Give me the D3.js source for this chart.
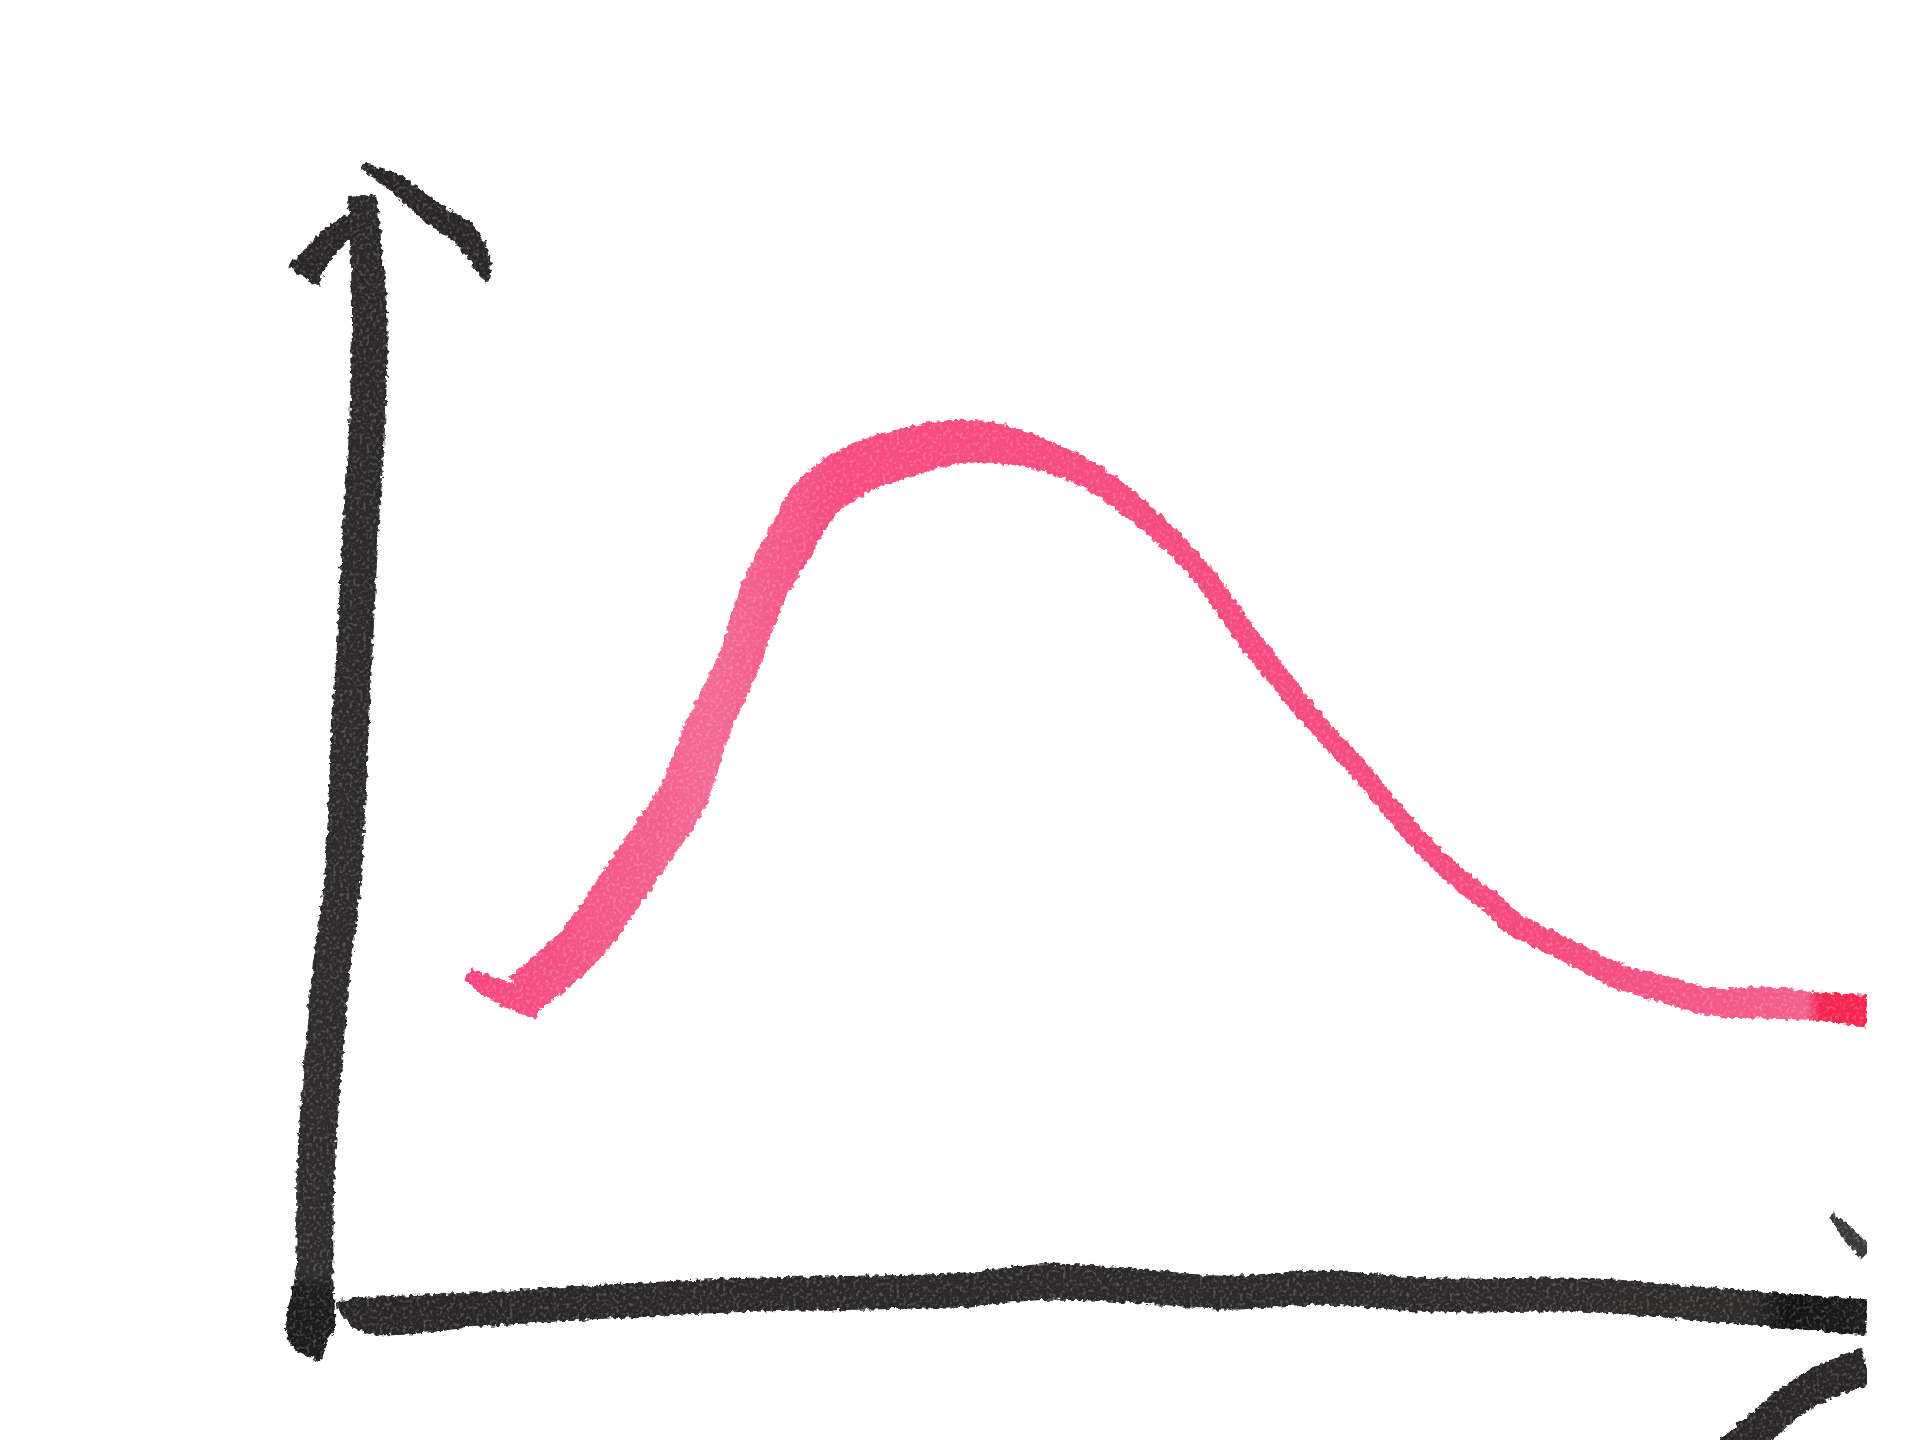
<!DOCTYPE html>
<html>
<head>
<meta charset="utf-8">
<title>Hand drawn curve</title>
<script src="https://cdn.jsdelivr.net/npm/d3@7"></script>
<style>
  html, body { margin: 0; background: #fff; }
  svg { display: block; }
</style>
</head>
<body>
<svg id="chart" width="1920" height="1440"></svg>
<script>
const curveX = [168, 214, 265, 298, 318, 344, 363, 385, 408, 443, 483, 519, 555, 595, 636, 710, 764, 791, 818, 845, 873, 897, 927, 960, 976, 1020, 1061, 1102, 1142, 1183, 1221, 1265]
const curveY = [263, 303, 375, 425, 479, 536, 590, 631, 669, 693, 706, 714, 713, 702, 683, 620, 548, 514, 481, 452, 419, 391, 361, 336, 321, 299, 278, 266, 256, 256, 253, 249]
const footX = [122, 149, 181]
const footY = [279, 265, 252]

const yAxisX = [36, 42, 40, 35, 30, 26, 20, 10, 4, -2, -3, -7, -5, 2]
const yAxisY = [915, 825, 725, 645, 545, 475, 355, 275, 205, 115, 35, -14, -22, -36]
const yWingLeftX = [28, 7, -5, -12]
const yWingLeftY = [893, 875, 860, 849]
const yWingRightX = [36, 59, 94, 122, 134, 138]
const yWingRightY = [940, 928, 901, 881, 860, 844]

const xAxisX = [16, 36, 140, 240, 340, 440, 520, 600, 690, 740, 820, 910, 1040, 1140, 1265]
const xAxisY = [10, 1, 6, 12, 17, 19, 21, 28, 23, 19, 23, 17, 17, 9, -1]
const xWingTopX = [1236, 1251, 1265]
const xWingTopY = [82, 66, 51]
const xWingLowX = [1141, 1169, 1210, 1237, 1265]
const xWingLowY = [-124, -99, -65, -51, -41]

// how wide the pen was at each of those points, in pixels
const curveWidth = [45, 48, 50, 50, 45, 43, 46, 49, 51, 51, 49, 44, 40, 31, 27, 22, 23, 22, 20, 20, 20, 20, 20, 22, 24, 23, 25, 27, 28, 32, 28, 33]
const footWidth = [13, 24, 26]
const yAxisWidth = [28, 35, 36, 36, 36, 37, 37, 38, 38, 38, 38, 48, 36, 5]
const yWingLeftWidth = [22, 26, 30, 38]
const yWingRightWidth = [6, 17, 23, 25, 18, 3]
const xAxisWidth = [5, 34, 34, 34, 34, 34, 34, 36, 34, 34, 34, 34, 34, 34, 36]
const xWingTopWidth = [6, 14, 16]
const xWingLowWidth = [34, 34, 34, 36, 38]

// where the ink changes tone along the strokes
const pinkStopsAt = [100, 250, 320, 420, 1000, 1216, 1226]
const pinkStopColors = ['#f6417a', '#f45a8a', '#f36a96', '#f64c80', '#f44a7c', '#f35f8b', '#f4264f']
const yAxisStopsAt = [915, 35, 20, -40]
const yAxisStopColors = ['#2a2828', '#2e2c2c', '#1d1c1c', '#1d1c1c']
const xAxisStopsAt = [0, 1170, 1200, 1265]
const xAxisStopColors = ['#282626', '#2e2b2b', '#141313', '#1e1c1c']

const black = '#282626'

const svg = d3.select('#chart')
const x = d3.scaleLinear().domain([0, 1265]).range([318, 1867])
const y = d3.scaleLinear().domain([0, 915]).range([1316, 196])

const defs = svg.append('defs')
defs.append('clipPath').attr('id', 'paper')
  .append('rect').attr('x', 0).attr('y', 0).attr('width', x(1265)).attr('height', 1440)

const addGradient = (id, horizontal, at, colors) => {
  const scale = horizontal ? x : y
  const first = scale(at[0])
  const last = scale(at[at.length - 1])
  const grad = defs.append('linearGradient').attr('id', id)
    .attr('gradientUnits', 'userSpaceOnUse')
    .attr('x1', horizontal ? first : 0).attr('x2', horizontal ? last : 0)
    .attr('y1', horizontal ? 0 : first).attr('y2', horizontal ? 0 : last)
  grad.selectAll('stop')
    .data(at)
    .join('stop')
    .attr('offset', (d) => (scale(d) - first) / (last - first))
    .attr('stop-color', (d, i) => colors[i])
}
addGradient('pinkInk', true, pinkStopsAt, pinkStopColors)
addGradient('yInk', false, yAxisStopsAt, yAxisStopColors)
addGradient('xInk', true, xAxisStopsAt, xAxisStopColors)

// felt pen on paper: rough edge, grainy fill, slightly soft scan
const ink = defs.append('filter').attr('id', 'ink')
  .attr('filterUnits', 'userSpaceOnUse')
  .attr('color-interpolation-filters', 'sRGB')
  .attr('x', 0).attr('y', 0).attr('width', 1920).attr('height', 1440)
ink.append('feTurbulence').attr('type', 'fractalNoise').attr('baseFrequency', 0.2)
  .attr('numOctaves', 2).attr('seed', 4).attr('result', 'edge')
ink.append('feDisplacementMap').attr('in', 'SourceGraphic').attr('in2', 'edge')
  .attr('scale', 7).attr('xChannelSelector', 'R').attr('yChannelSelector', 'G').attr('result', 'rough')
ink.append('feTurbulence').attr('type', 'fractalNoise').attr('baseFrequency', 0.3)
  .attr('numOctaves', 2).attr('seed', 9)
ink.append('feColorMatrix').attr('type', 'matrix')
  .attr('values', '0 0 0 0 1  0 0 0 0 1  0 0 0 0 1  4 0 0 0 -2')
  .attr('result', 'grain')
ink.append('feComposite').attr('in', 'grain').attr('in2', 'rough').attr('operator', 'in').attr('result', 'speck')
ink.append('feComponentTransfer').attr('in', 'speck').attr('result', 'soft')
  .append('feFuncA').attr('type', 'linear').attr('slope', 0.2)
const merge = ink.append('feMerge').attr('result', 'inked')
merge.append('feMergeNode').attr('in', 'rough')
merge.append('feMergeNode').attr('in', 'soft')
ink.append('feGaussianBlur').attr('in', 'inked').attr('stdDeviation', 0.75)

const smooth = d3.line().curve(d3.curveCatmullRom.alpha(0.5))

// outline of a pen stroke whose width changes along the way
const strokeOutline = (xs, ys, widths) => {
  const pts = xs.map((v, i) => [x(v), y(ys[i])])
  const left = []
  const right = []
  pts.forEach((p, i) => {
    const a = pts[Math.max(i - 1, 0)]
    const b = pts[Math.min(i + 1, pts.length - 1)]
    const len = Math.hypot(b[0] - a[0], b[1] - a[1])
    const nx = -(b[1] - a[1]) / len
    const ny = (b[0] - a[0]) / len
    left.push([p[0] + nx * widths[i] / 2, p[1] + ny * widths[i] / 2])
    right.push([p[0] - nx * widths[i] / 2, p[1] - ny * widths[i] / 2])
  })
  return smooth(left) + 'L' + smooth(right.reverse()).slice(1) + 'Z'
}

const strokes = [
  { xs: yAxisX, ys: yAxisY, ws: yAxisWidth, color: 'url(#yInk)' },
  { xs: yWingLeftX, ys: yWingLeftY, ws: yWingLeftWidth, color: black },
  { xs: yWingRightX, ys: yWingRightY, ws: yWingRightWidth, color: black },
  { xs: xAxisX, ys: xAxisY, ws: xAxisWidth, color: 'url(#xInk)' },
  { xs: xWingTopX, ys: xWingTopY, ws: xWingTopWidth, color: '#3a3838' },
  { xs: xWingLowX, ys: xWingLowY, ws: xWingLowWidth, color: black },
  { xs: footX, ys: footY, ws: footWidth, color: 'url(#pinkInk)' },
  { xs: curveX, ys: curveY, ws: curveWidth, color: 'url(#pinkInk)' },
]

svg.append('g')
  .attr('clip-path', 'url(#paper)')
  .append('g')
  .attr('filter', 'url(#ink)')
  .selectAll('path')
  .data(strokes)
  .join('path')
  .attr('d', (d) => strokeOutline(d.xs, d.ys, d.ws))
  .attr('fill', (d) => d.color)
</script>
</body>
</html>
